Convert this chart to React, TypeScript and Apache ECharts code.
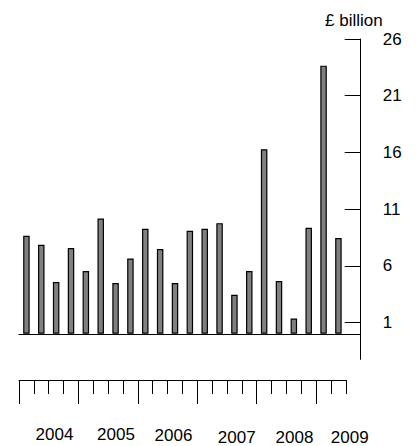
import React, { useEffect, useRef } from "react";
import * as echarts from "echarts";

const quarters = [
  "2004 Q1", "2004 Q2", "2004 Q3", "2004 Q4",
  "2005 Q1", "2005 Q2", "2005 Q3", "2005 Q4",
  "2006 Q1", "2006 Q2", "2006 Q3", "2006 Q4",
  "2007 Q1", "2007 Q2", "2007 Q3", "2007 Q4",
  "2008 Q1", "2008 Q2", "2008 Q3", "2008 Q4",
  "2009 Q1", "2009 Q2", "",
];
const values = [
  8.64, 7.85, 4.56, 7.56, 5.53, 10.16, 4.47, 6.64, 9.26, 7.47, 4.47,
  9.08, 9.26, 9.76, 3.44, 5.53, 16.28, 4.65, 1.35, 9.35, 23.65, 8.44,
];
const yTicks = [1, 6, 11, 16, 21, 26];
const yearLabels = ["2004", "2005", "2006", "2007", "2008", "2009"];
const yearLabelX = [54.5, 116, 173.5, 236.7, 294.5, 349.7];
const yearLabelY = [434.5, 434.5, 435.5, 437.5, 437.5, 437.5];

const FONT = "Liberation Sans, Arial, sans-serif";

export default function App() {
  const ref = useRef<HTMLDivElement>(null);
  useEffect(() => {
    if (!ref.current) return;
    const chart = echarts.init(ref.current, undefined, { renderer: "svg" });
    const band = 341.7 / 23;
    chart.setOption({
      animation: false,
      backgroundColor: "#ffffff",
      grid: [
        { left: 19, right: 58.3, top: 39, bottom: 86.7 },
        { left: 19, width: band * 22, top: 379, height: 1 },
        { left: 19, width: band * 20, top: 379, height: 1 },
      ],
      xAxis: [
        {
          type: "category",
          gridIndex: 0,
          data: quarters,
          boundaryGap: true,
          axisLine: { show: true, onZero: true, lineStyle: { color: "#000", width: 1 } },
          axisTick: { show: false },
          axisLabel: { show: false },
          splitLine: { show: false },
        },
        {
          type: "value",
          gridIndex: 1,
          min: 0,
          max: 22,
          interval: 1,
          axisLine: { show: true, lineStyle: { color: "#000", width: 1 } },
          axisTick: { show: true, length: 14, lineStyle: { color: "#000", width: 1 } },
          axisLabel: { show: false },
          splitLine: { show: false },
        },
        {
          type: "value",
          gridIndex: 2,
          min: 0,
          max: 20,
          interval: 4,
          axisLine: { show: false },
          axisTick: { show: true, length: 24, lineStyle: { color: "#000", width: 1 } },
          axisLabel: { show: false },
          splitLine: { show: false },
        },
      ],
      yAxis: [
        {
          type: "value",
          gridIndex: 0,
          position: "right",
          min: -2.25,
          max: 26,
          axisLine: { show: true, onZero: false, lineStyle: { color: "#000", width: 1 } },
          axisTick: {
            show: true,
            inside: true,
            length: 16,
            customValues: yTicks,
            lineStyle: { color: "#000", width: 1 },
          },
          axisLabel: {
            show: true,
            customValues: yTicks,
            margin: 22,
            color: "#000",
            fontSize: 17,
            fontFamily: FONT,
          },
          splitLine: { show: false },
        },
        { type: "value", gridIndex: 1, show: false },
        { type: "value", gridIndex: 2, show: false },
      ],
      series: [
        {
          type: "bar",
          xAxisIndex: 0,
          yAxisIndex: 0,
          data: values,
          barWidth: 6.5,
          itemStyle: { color: "#808080", borderColor: "#000", borderWidth: 1.2 },
        },
      ],
      graphic: [
        {
          type: "text",
          left: 325,
          top: 12,
          style: { text: "£ billion", fill: "#000", fontSize: 17, fontFamily: FONT },
        },
        ...yearLabels.map((t, i) => ({
          type: "text",
          x: yearLabelX[i],
          y: yearLabelY[i],
          style: {
            text: t,
            fill: "#000",
            fontSize: 17,
            fontFamily: FONT,
            align: "center",
            verticalAlign: "middle",
          },
        })),
      ],
    });
    return () => chart.dispose();
  }, []);
  return (
    <div
      ref={ref}
      style={{ position: "fixed", left: 0, top: 0, width: 419, height: 446 }}
    />
  );
}
